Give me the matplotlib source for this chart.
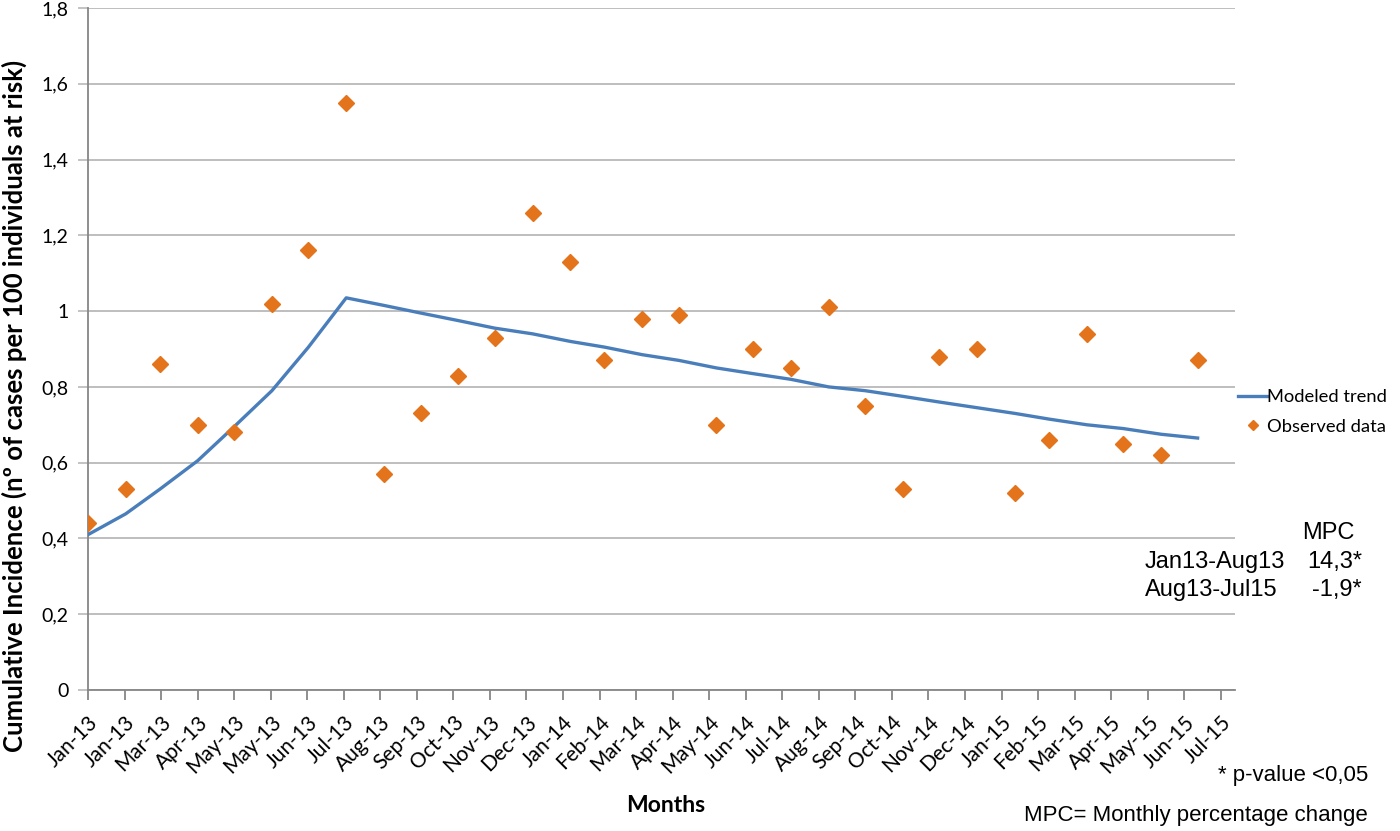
import matplotlib
matplotlib.use("Agg")
import matplotlib.pyplot as plt
import matplotlib.dates as mdates
import datetime as dt

# ---- data ----
months = ["2013-01", "2013-02", "2013-03", "2013-04", "2013-05", "2013-06", "2013-07", "2013-08",
          "2013-09", "2013-10", "2013-11", "2013-12", "2014-01", "2014-02", "2014-03", "2014-04",
          "2014-05", "2014-06", "2014-07", "2014-08", "2014-09", "2014-10", "2014-11", "2014-12",
          "2015-01", "2015-02", "2015-03", "2015-04", "2015-05", "2015-06", "2015-07"]
observed = [0.44, 0.53, 0.86, 0.70, 0.68, 1.02, 1.16, 1.55,
            0.57, 0.73, 0.83, 0.93, 1.26, 1.13, 0.87, 0.98,
            0.99, 0.70, 0.90, 0.85, 1.01, 0.75, 0.53, 0.88,
            0.90, 0.52, 0.66, 0.94, 0.65, 0.62, 0.87]
modeled = [0.41, 0.465, 0.53, 0.605, 0.695, 0.79, 0.905, 1.035,
           1.015, 0.995, 0.975, 0.955, 0.94, 0.92, 0.905, 0.885,
           0.87, 0.85, 0.835, 0.82, 0.80, 0.79, 0.775, 0.76,
           0.745, 0.73, 0.715, 0.70, 0.69, 0.675, 0.665]
tick_labels = ["Jan-13", "Jan-13", "Mar-13", "Apr-13", "May-13", "May-13", "Jun-13", "Jul-13",
               "Aug-13", "Sep-13", "Oct-13", "Nov-13", "Dec-13", "Jan-14", "Feb-14", "Mar-14",
               "Apr-14", "May-14", "Jun-14", "Jul-14", "Aug-14", "Sep-14", "Oct-14", "Nov-14",
               "Dec-14", "Jan-15", "Feb-15", "Mar-15", "Apr-15", "May-15", "Jun-15", "Jul-15"]
y_ticks = [0, 0.2, 0.4, 0.6, 0.8, 1.0, 1.2, 1.4, 1.6, 1.8]
y_tick_labels = ["0", "0,2", "0,4", "0,6", "0,8", "1", "1,2", "1,4", "1,6", "1,8"]

dates = [dt.datetime.strptime(m + "-01", "%Y-%m-%d") for m in months]
start = dates[0]
tick_dates = [start + dt.timedelta(days=30 * k) for k in range(len(tick_labels))]

W, H = 1400, 831
fig = plt.figure(figsize=(14, 8.31), dpi=100)
ax = fig.add_axes([88 / W, 1 - 690 / H, (1235 - 88) / W, (690 - 8) / H])

grid_c = "#BEBEBE"
axis_c = "#868686"
ax.set_ylim(0, 1.8)
ax.set_xlim(mdates.date2num(start), mdates.date2num(start) + 941.7)
ax.set_yticks(y_ticks)
ax.set_yticklabels(y_tick_labels, family="Lato", fontsize=14)
ax.yaxis.grid(True, color=grid_c, linewidth=1.4)
ax.set_axisbelow(True)

ax.set_xticks([mdates.date2num(d) for d in tick_dates])
ax.set_xticklabels(tick_labels, rotation=45, ha="right", va="top", rotation_mode="anchor",
                   family="Lato", fontsize=15)
ax.tick_params(axis="x", length=7, width=1.3, color=axis_c, pad=9)
ax.tick_params(axis="y", length=7, width=1.3, color=grid_c, pad=7)

for s in ["top", "right"]:
    ax.spines[s].set_visible(False)
ax.spines["left"].set_color(axis_c)
ax.spines["bottom"].set_color(axis_c)
ax.spines["left"].set_linewidth(1.3)
ax.spines["bottom"].set_linewidth(1.3)

ax.plot(dates, modeled, color="#4A7EBB", linewidth=2.4, label="Modeled trend", zorder=3)
ax.plot(dates, observed, linestyle="none", marker="D", markersize=8, color="#E3741B",
        markeredgecolor="#E3741B", label="Observed data", zorder=4)

fig.text(14 / W, 1 - 406 / H, "Cumulative Incidence (nº of cases per 100 individuals at risk)",
         family="Lato", fontweight="bold", fontsize=18.5, rotation=90,
         ha="center", va="center")

fig.text(666 / W, 1 - 805 / H, "Months", family="Lato", fontweight="bold",
         fontsize=16.5, ha="center", va="center")

leg = ax.legend(loc="center left", bbox_to_anchor=(1238 / W, 1 - 412 / H),
                bbox_transform=fig.transFigure, frameon=False, handlelength=1.6,
                handletextpad=0.0, labelspacing=0.75, markerscale=0.7, borderpad=0,
                borderaxespad=0, prop={"family": "Lato", "size": 13.2})

tf = dict(family="Liberation Sans", fontsize=17, va="center")
fig.text(1328 / W, 1 - 533 / H, "MPC", ha="center", **tf)
fig.text(1145 / W, 1 - 562 / H, "Jan13-Aug13", ha="left", **tf)
fig.text(1362 / W, 1 - 562 / H, "14,3*", ha="right", **tf)
fig.text(1145 / W, 1 - 590 / H, "Aug13-Jul15", ha="left", **tf)
fig.text(1362 / W, 1 - 590 / H, "-1,9*", ha="right", **tf)
nf = dict(family="Liberation Sans", fontsize=16, va="center")
fig.text(1368 / W, 1 - 775 / H, "* p-value <0,05", ha="right", **nf)
fig.text(1368 / W, 1 - 815 / H, "MPC= Monthly percentage change", ha="right", **nf)

fig.savefig("out.png", dpi=100)
